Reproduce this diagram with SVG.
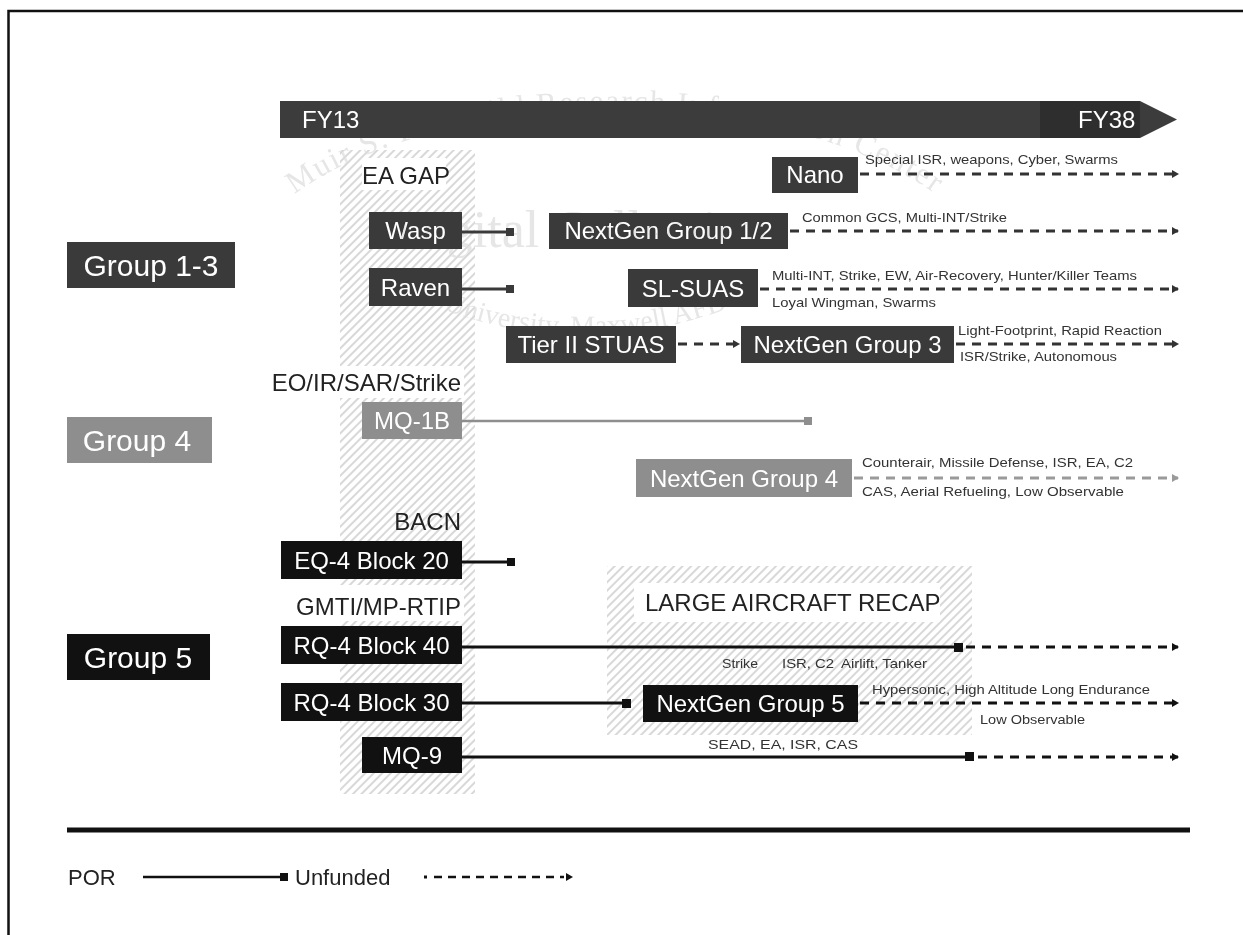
<svg xmlns="http://www.w3.org/2000/svg" width="1243" height="935" viewBox="0 0 1243 935">
<style>
  text { font-family: "Liberation Sans", Arial, sans-serif; }
  .box-d { fill: #3a3a3a; }
  .box-g { fill: #8e8e8e; }
  .box-b { fill: #111111; }
  .bt { fill: #ffffff; font-size: 24px; text-anchor: middle; }
  .grp { fill: #ffffff; font-size: 30px; text-anchor: middle; }
  .lbl { font-size: 24px; fill: #222; }
  .note { font-size: 13px; fill: #333; }
  .solid-d { stroke: #3a3a3a; stroke-width: 3; fill: none; }
  .solid-b { stroke: #111; stroke-width: 3; fill: none; }
  .solid-g { stroke: #8e8e8e; stroke-width: 2.5; fill: none; }
  .dash-d { stroke: #333; stroke-width: 3; stroke-dasharray: 9 7; fill: none; marker-end: url(#arr-d); }
  .dash-b { stroke: #111; stroke-width: 3; stroke-dasharray: 9 7; fill: none; marker-end: url(#arr-b); }
  .dash-g { stroke: #9a9a9a; stroke-width: 3; stroke-dasharray: 9 7; fill: none; marker-end: url(#arr-g); }
  .wm { font-family: "Liberation Serif", "Times New Roman", serif; fill: #e6e6e6; mix-blend-mode: darken; }
</style>
<defs>
  <pattern id="hatch" width="6" height="6" patternUnits="userSpaceOnUse" patternTransform="rotate(45)">
    <rect width="6" height="6" fill="#ffffff"/>
    <line x1="1" y1="0" x2="1" y2="6" stroke="#cfcfcf" stroke-width="1.6"/>
  </pattern>
  <marker id="arr-d" markerWidth="8" markerHeight="8" refX="6" refY="4" orient="auto" markerUnits="userSpaceOnUse">
    <path d="M0,0 L7,4 L0,8 Z" fill="#333"/>
  </marker>
  <marker id="arr-b" markerWidth="8" markerHeight="8" refX="6" refY="4" orient="auto" markerUnits="userSpaceOnUse">
    <path d="M0,0 L7,4 L0,8 Z" fill="#111"/>
  </marker>
  <marker id="arr-g" markerWidth="8" markerHeight="8" refX="6" refY="4" orient="auto" markerUnits="userSpaceOnUse">
    <path d="M0,0 L7,4 L0,8 Z" fill="#9a9a9a"/>
  </marker>
  <path id="wm-top" d="M 245,250 A 380,180 0 0 1 985,250"/>
  <path id="wm-bot" d="M 420,300 Q 580,370 750,300"/>
</defs>

<rect width="1243" height="935" fill="#ffffff"/>
<!-- frame -->
<path d="M 8.5,935 L 8.5,11 L 1243,11" fill="none" stroke="#111" stroke-width="2.5"/>

<!-- hatched regions -->
<g id="ea-gap-strip">
  <rect x="340" y="150" width="135" height="644" fill="url(#hatch)"/>
  <rect x="362" y="158" width="84" height="32" fill="#ffffff"/>
  <rect x="266" y="366" width="198" height="32" fill="#ffffff"/>
  <rect x="290" y="585" width="174" height="36" fill="#ffffff"/>
  <text class="lbl" x="362" y="184" fill="#333">EA GAP</text>
</g>
<g id="large-aircraft-recap">
  <rect x="607" y="566" width="365" height="169" fill="url(#hatch)"/>
  <rect x="634" y="583" width="306" height="39" fill="#ffffff"/>
  <text class="lbl" x="645" y="611" font-size="21.5">LARGE AIRCRAFT RECAP</text>
</g>

<!-- timeline -->
<g id="timeline">
  <path d="M 280,101 L 1140,101 L 1177,119.5 L 1140,138 L 280,138 Z" fill="#3c3c3c"/>
  <rect x="1040" y="101" width="100" height="37" fill="#2e2e2e"/>
  <text x="302" y="128" font-size="24" fill="#ffffff">FY13</text>
  <text x="1078" y="128" font-size="24" fill="#ffffff">FY38</text>
</g>

<!-- connectors -->
<g id="connectors">
  <!-- Group 1-3 -->
  <line class="dash-d" x1="860" y1="174" x2="1178" y2="174"/>
  <line class="solid-d" x1="462" y1="232" x2="508" y2="232"/>
  <rect x="506" y="228" width="8" height="8" fill="#3a3a3a"/>
  <line class="dash-d" x1="790" y1="231" x2="1178" y2="231"/>
  <line class="solid-d" x1="462" y1="289" x2="508" y2="289"/>
  <rect x="506" y="285" width="8" height="8" fill="#3a3a3a"/>
  <line class="dash-d" x1="760" y1="289" x2="1178" y2="289"/>
  <line class="dash-d" x1="678" y1="344" x2="739" y2="344"/>
  <line class="dash-d" x1="956" y1="344" x2="1178" y2="344"/>
  <!-- Group 4 -->
  <line class="solid-g" x1="462" y1="421" x2="806" y2="421"/>
  <rect x="804" y="417" width="8" height="8" fill="#8e8e8e"/>
  <line class="dash-g" x1="854" y1="478" x2="1178" y2="478"/>
  <!-- Group 5 -->
  <line class="solid-b" x1="462" y1="562" x2="509" y2="562"/>
  <rect x="507" y="558" width="8" height="8" fill="#111"/>
  <line class="solid-b" x1="462" y1="647" x2="956" y2="647"/>
  <rect x="954" y="643" width="9" height="9" fill="#111"/>
  <line class="dash-b" x1="966" y1="647" x2="1178" y2="647"/>
  <line class="solid-b" x1="462" y1="703" x2="624" y2="703"/>
  <rect x="622" y="699" width="9" height="9" fill="#111"/>
  <line class="dash-b" x1="860" y1="703" x2="1178" y2="703"/>
  <line class="solid-b" x1="462" y1="757" x2="966" y2="757"/>
  <rect x="965" y="752" width="9" height="9" fill="#111"/>
  <line class="dash-b" x1="978" y1="757" x2="1178" y2="757"/>
</g>

<!-- connector notes -->
<g id="notes">
  <text class="note" x="865" y="164" textLength="253" lengthAdjust="spacingAndGlyphs">Special ISR, weapons, Cyber, Swarms</text>
  <text class="note" x="802" y="222" textLength="205" lengthAdjust="spacingAndGlyphs">Common GCS, Multi-INT/Strike</text>
  <text class="note" x="772" y="280" textLength="365" lengthAdjust="spacingAndGlyphs">Multi-INT, Strike, EW, Air-Recovery, Hunter/Killer Teams</text>
  <text class="note" x="772" y="307" textLength="164" lengthAdjust="spacingAndGlyphs">Loyal Wingman, Swarms</text>
  <text class="note" x="958" y="335" textLength="204" lengthAdjust="spacingAndGlyphs">Light-Footprint, Rapid Reaction</text>
  <text class="note" x="960" y="361" textLength="157" lengthAdjust="spacingAndGlyphs">ISR/Strike, Autonomous</text>
  <text class="note" x="862" y="467" textLength="271" lengthAdjust="spacingAndGlyphs">Counterair, Missile Defense, ISR, EA, C2</text>
  <text class="note" x="862" y="496" textLength="262" lengthAdjust="spacingAndGlyphs">CAS, Aerial Refueling, Low Observable</text>
  <text class="note" x="722" y="668" textLength="36" lengthAdjust="spacingAndGlyphs">Strike</text>
  <text class="note" x="782" y="668" textLength="52" lengthAdjust="spacingAndGlyphs">ISR, C2</text>
  <text class="note" x="841" y="668" textLength="86" lengthAdjust="spacingAndGlyphs">Airlift, Tanker</text>
  <text class="note" x="872" y="694" textLength="278" lengthAdjust="spacingAndGlyphs">Hypersonic, High Altitude Long Endurance</text>
  <text class="note" x="980" y="724" textLength="105" lengthAdjust="spacingAndGlyphs">Low Observable</text>
  <text class="note" x="708" y="749" textLength="150" lengthAdjust="spacingAndGlyphs">SEAD, EA, ISR, CAS</text>
</g>

<!-- category labels -->
<g id="group-1-3"><rect class="box-d" x="67" y="242" width="168" height="46"/><text class="grp" x="151" y="276">Group 1-3</text></g>
<g id="group-4"><rect class="box-g" x="67" y="417" width="145" height="46"/><text class="grp" x="137" y="451">Group 4</text></g>
<g id="group-5"><rect class="box-b" x="67" y="634" width="143" height="46"/><text class="grp" x="138" y="668">Group 5</text></g>

<!-- platform nodes -->
<g id="nano"><rect class="box-d" x="772" y="157" width="86" height="36"/><text class="bt" x="815" y="183">Nano</text></g>
<g id="wasp"><rect class="box-d" x="369" y="212" width="93" height="37"/><text class="bt" x="415.5" y="239">Wasp</text></g>
<g id="nextgen-1-2"><rect class="box-d" x="549" y="213" width="239" height="36"/><text class="bt" x="668.5" y="239">NextGen Group 1/2</text></g>
<g id="raven"><rect class="box-d" x="369" y="268" width="93" height="38"/><text class="bt" x="415.5" y="296">Raven</text></g>
<g id="sl-suas"><rect class="box-d" x="628" y="269" width="130" height="38"/><text class="bt" x="693" y="297">SL-SUAS</text></g>
<g id="tier-ii-stuas"><rect class="box-d" x="506" y="326" width="170" height="37"/><text class="bt" x="591" y="353">Tier II STUAS</text></g>
<g id="nextgen-3"><rect class="box-d" x="741" y="326" width="213" height="37"/><text class="bt" x="847.5" y="353">NextGen Group 3</text></g>

<g id="eo-ir-label"><text class="lbl" x="461" y="391" text-anchor="end" fill="#9a9a9a">EO/IR/SAR/Strike</text></g>
<g id="mq-1b"><rect class="box-g" x="362" y="402" width="100" height="37"/><text class="bt" x="412" y="429">MQ-1B</text></g>
<g id="nextgen-4"><rect class="box-g" x="636" y="459" width="216" height="38"/><text class="bt" x="744" y="487">NextGen Group 4</text></g>

<g id="bacn-label"><text class="lbl" x="461" y="530" text-anchor="end">BACN</text></g>
<g id="eq-4-block-20"><rect class="box-b" x="281" y="541" width="181" height="38"/><text class="bt" x="371.5" y="569">EQ-4 Block 20</text></g>
<g id="gmti-label"><text class="lbl" x="461" y="615" text-anchor="end">GMTI/MP-RTIP</text></g>
<g id="rq-4-block-40"><rect class="box-b" x="281" y="626" width="181" height="38"/><text class="bt" x="371.5" y="654">RQ-4 Block 40</text></g>
<g id="rq-4-block-30"><rect class="box-b" x="281" y="683" width="181" height="38"/><text class="bt" x="371.5" y="711">RQ-4 Block 30</text></g>
<g id="nextgen-5"><rect class="box-b" x="643" y="685" width="215" height="37"/><text class="bt" x="750.5" y="712">NextGen Group 5</text></g>
<g id="mq-9"><rect class="box-b" x="362" y="737" width="100" height="36"/><text class="bt" x="412" y="764">MQ-9</text></g>

<!-- separator -->
<line x1="67" y1="830" x2="1190" y2="830" stroke="#111" stroke-width="5"/>

<!-- legend -->
<g id="legend">
  <text x="68" y="885" font-size="22" fill="#222">POR</text>
  <line x1="143" y1="877" x2="282" y2="877" stroke="#111" stroke-width="2.5"/>
  <rect x="280" y="873" width="8" height="8" fill="#111"/>
  <text x="295" y="885" font-size="22" fill="#222">Unfunded</text>
  <rect x="424" y="875.5" width="3" height="3" fill="#111"/>
  <line x1="434" y1="877" x2="564" y2="877" stroke="#111" stroke-width="2.5" stroke-dasharray="8 6"/>
  <path d="M 566,873 L 573,877 L 566,881 Z" fill="#111"/>
</g>

<!-- faint archive watermark, printed over the chart -->
<g id="watermark">
  <text class="wm" font-size="31" letter-spacing="2" text-anchor="middle"><textPath href="#wm-top" startOffset="50%">Muir S. Fairchild Research Information Center</textPath></text>
  <text class="wm" x="592" y="247" font-size="52" text-anchor="middle">Digital Collections</text>
  <text class="wm" font-size="28" text-anchor="middle"><textPath href="#wm-bot" startOffset="50%">University, Maxwell AFB</textPath></text>
</g>
</svg>
